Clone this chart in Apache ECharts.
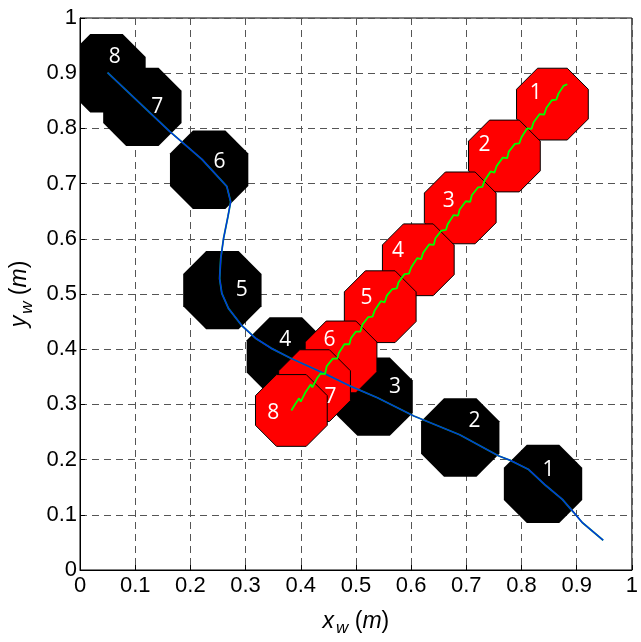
<!DOCTYPE html>
<html>
<head>
<meta charset="utf-8">
<style>
  html, body { margin: 0; padding: 0; background: #fff; }
  #main { width: 641px; height: 642px; }
</style>
<script src="https://cdn.jsdelivr.net/npm/echarts@6/dist/echarts.min.js"></script>
</head>
<body>
<div id="main"></div>
<script type="text/javascript">
    // tick labels
    var tickLabels = ['0', '0.1', '0.2', '0.3', '0.4', '0.5', '0.6', '0.7', '0.8', '0.9', '1'];

    // black octagons (centres + label spots)
    var blackNames  = ['1', '2', '3', '4', '5', '6', '7', '8'];
    var blackX      = [0.839, 0.689, 0.532, 0.373, 0.258, 0.234, 0.113, 0.048];
    var blackY      = [0.156, 0.240, 0.314, 0.387, 0.507, 0.725, 0.839, 0.900];
    var blackLabelX = [0.849, 0.715, 0.571, 0.372, 0.293, 0.253, 0.140, 0.063];
    var blackLabelY = [0.182, 0.270, 0.332, 0.416, 0.508, 0.739, 0.838, 0.930];

    // red octagons
    var redNames  = ['1', '2', '3', '4', '5', '6', '7', '8'];
    var redX      = [0.856, 0.769, 0.689, 0.613, 0.544, 0.473, 0.425, 0.383];
    var redY      = [0.844, 0.750, 0.656, 0.562, 0.477, 0.386, 0.334, 0.289];
    var redLabelX = [0.826, 0.733, 0.668, 0.576, 0.519, 0.452, 0.454, 0.350];
    var redLabelY = [0.865, 0.769, 0.668, 0.577, 0.492, 0.416, 0.314, 0.285];

    // path of the black ones
    var bluePathX = [0.050, 0.126, 0.162, 0.221, 0.266, 0.273, 0.268, 0.260, 0.255, 0.253, 0.257, 0.269, 0.293, 0.318,
                     0.346, 0.381, 0.449, 0.490, 0.539, 0.605, 0.688, 0.758, 0.781, 0.813, 0.844, 0.874, 0.894, 0.910, 0.948];
    var bluePathY = [0.901, 0.829, 0.795, 0.744, 0.695, 0.667, 0.640, 0.600, 0.564, 0.528, 0.501, 0.474, 0.443, 0.420,
                     0.402, 0.384, 0.353, 0.333, 0.312, 0.279, 0.245, 0.207, 0.198, 0.182, 0.153, 0.128, 0.105, 0.086, 0.054];

    // path of the red ones (jagged)
    var greenPathX = [0.383, 0.389, 0.397, 0.400, 0.408, 0.418, 0.421, 0.430, 0.436, 0.444, 0.447, 0.458, 0.466, 0.469,
                      0.479, 0.488, 0.491, 0.500, 0.508, 0.512, 0.522, 0.530, 0.534, 0.545, 0.552, 0.556, 0.566, 0.574,
                      0.577, 0.588, 0.596, 0.600, 0.611, 0.618, 0.622, 0.633, 0.641, 0.644, 0.655, 0.663, 0.666, 0.677,
                      0.685, 0.688, 0.699, 0.707, 0.710, 0.721, 0.729, 0.733, 0.744, 0.751, 0.755, 0.766, 0.774, 0.777,
                      0.788, 0.796, 0.800, 0.810, 0.818, 0.822, 0.833, 0.841, 0.845, 0.855, 0.863, 0.867, 0.876, 0.883];
    var greenPathY = [0.289, 0.299, 0.311, 0.305, 0.321, 0.336, 0.331, 0.348, 0.356, 0.355, 0.369, 0.383, 0.383, 0.393,
                      0.409, 0.409, 0.420, 0.432, 0.432, 0.445, 0.458, 0.459, 0.470, 0.487, 0.485, 0.497, 0.509, 0.510,
                      0.521, 0.536, 0.537, 0.548, 0.565, 0.563, 0.575, 0.590, 0.589, 0.601, 0.615, 0.616, 0.626, 0.643,
                      0.642, 0.653, 0.668, 0.667, 0.679, 0.693, 0.694, 0.705, 0.722, 0.720, 0.732, 0.747, 0.746, 0.758,
                      0.772, 0.773, 0.784, 0.800, 0.799, 0.811, 0.826, 0.825, 0.837, 0.851, 0.852, 0.863, 0.877, 0.880];

    var blackHalf = 0.071;
    var redHalf = 0.065;

    function zip(a, b) {
        var out = [];
        for (var i = 0; i < a.length; i++) out.push([a[i], b[i]]);
        return out;
    }
    function zip3(a, b, c) {
        var out = [];
        for (var i = 0; i < a.length; i++) out.push([a[i], b[i], c[i]]);
        return out;
    }

    function octagon(half, fill, stroke) {
        return function (params, api) {
            var c = api.coord([api.value(0), api.value(1)]);
            var s = api.size([half, half]);
            var k = 1 / Math.cos(Math.PI / 8);
            var pts = [];
            for (var i = 0; i < 8; i++) {
                var a = Math.PI / 8 + i * Math.PI / 4;
                pts.push([c[0] + s[0] * k * Math.cos(a), c[1] - s[1] * k * Math.sin(a)]);
            }
            return {
                type: 'polygon',
                shape: { points: pts },
                style: { fill: fill, stroke: stroke, lineWidth: stroke ? 1 : 0 }
            };
        };
    }

    function labelItem(params, api) {
        var c = api.coord([api.value(0), api.value(1)]);
        return {
            type: 'text',
            x: c[0], y: c[1],
            style: {
                text: api.value(2),
                fill: '#fff',
                font: '21px "Open Sans", "DejaVu Sans", sans-serif',
                align: 'center',
                verticalAlign: 'middle'
            }
        };
    }

    var myChart = echarts.init(document.getElementById('main'));
    var option = {
        animation: false,
        backgroundColor: '#fff',
        grid: {
            left: 80, right: 4, top: 18, bottom: 69,
            show: true, borderColor: '#000', borderWidth: 1
        },
        xAxis: {
            type: 'value',
            min: 0, max: 1, interval: 0.1,
            name: '{i|x}{s|w} ({i|m})',
            nameLocation: 'middle',
            nameGap: 36,
            nameTextStyle: {
                color: '#000', fontSize: 23, fontFamily: 'Liberation Sans',
                rich: {
                    i: { fontSize: 23, fontStyle: 'italic', fontFamily: 'Liberation Sans', color: '#000' },
                    s: { fontSize: 17, fontStyle: 'italic', fontFamily: 'Liberation Sans', color: '#000', padding: [14, 0, 0, 2] }
                }
            },
            axisLine: { show: true, lineStyle: { color: '#000', width: 1 } },
            axisTick: { show: true, inside: true, length: 5, lineStyle: { color: '#000' } },
            axisLabel: {
                color: '#000', fontSize: 22, fontFamily: 'Liberation Sans', margin: 5,
                formatter: function (v) { return tickLabels[Math.round(v * 10)]; }
            },
            splitLine: { show: true, lineStyle: { color: '#555', type: [7, 5], width: 1 } }
        },
        yAxis: {
            type: 'value',
            min: 0, max: 1, interval: 0.1,
            name: '{i|y}{s|w} ({i|m})',
            nameLocation: 'middle',
            nameGap: 43,
            nameRotate: 90,
            nameTextStyle: {
                color: '#000', fontSize: 23, fontFamily: 'Liberation Sans',
                rich: {
                    i: { fontSize: 23, fontStyle: 'italic', fontFamily: 'Liberation Sans', color: '#000' },
                    s: { fontSize: 17, fontStyle: 'italic', fontFamily: 'Liberation Sans', color: '#000', padding: [14, 0, 0, 2] }
                }
            },
            axisLine: { show: true, lineStyle: { color: '#000', width: 1 } },
            axisTick: { show: true, inside: true, length: 5, lineStyle: { color: '#000' } },
            axisLabel: {
                color: '#000', fontSize: 22, fontFamily: 'Liberation Sans', margin: 3,
                formatter: function (v) { return tickLabels[Math.round(v * 10)]; }
            },
            splitLine: { show: true, lineStyle: { color: '#555', type: [7, 5], width: 1 } }
        },
        series: [
            {
                name: 'black',
                type: 'custom',
                clip: true,
                z: 2,
                renderItem: octagon(blackHalf, '#000', null),
                data: zip(blackX, blackY).reverse()
            },
            {
                name: 'red',
                type: 'custom',
                clip: true,
                z: 3,
                renderItem: octagon(redHalf, '#ff0000', '#000'),
                data: zip(redX, redY)
            },
            {
                name: 'blackTrace',
                type: 'line',
                z: 4,
                symbol: 'none',
                lineStyle: { color: '#00a060', width: 1.8 },
                data: zip(bluePathX, bluePathY)
            },
            {
                name: 'blackPath',
                type: 'line',
                z: 5,
                symbol: 'none',
                lineStyle: { color: '#0030e0', width: 1.3 },
                data: zip(bluePathX, bluePathY)
            },
            {
                name: 'redPath',
                type: 'line',
                z: 5,
                symbol: 'none',
                lineStyle: { color: '#00ff00', width: 1.8 },
                data: zip(greenPathX, greenPathY)
            },
            {
                name: 'blackLabels',
                type: 'custom',
                z: 6,
                renderItem: labelItem,
                data: zip3(blackLabelX, blackLabelY, blackNames)
            },
            {
                name: 'redLabels',
                type: 'custom',
                z: 6,
                renderItem: labelItem,
                data: zip3(redLabelX, redLabelY, redNames)
            }
        ]
    };
    myChart.setOption(option);
</script>
</body>
</html>
